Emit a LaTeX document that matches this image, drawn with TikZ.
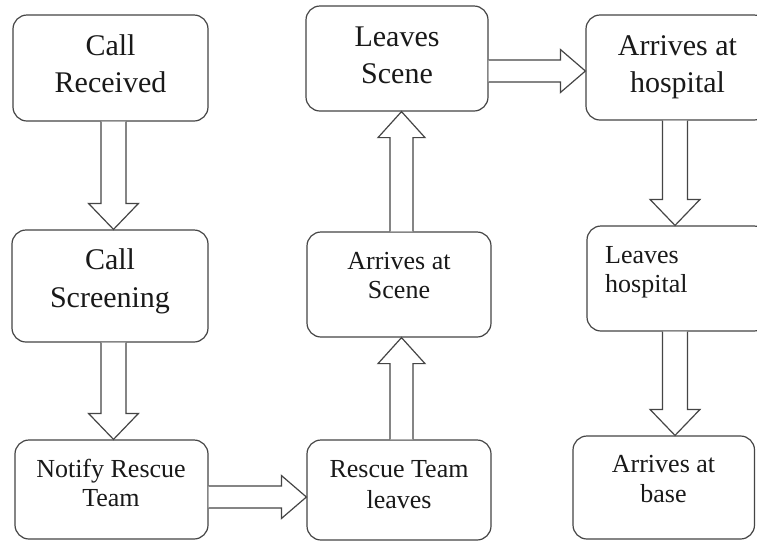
\documentclass[tikz,border=0pt]{standalone}
\usepackage{fontspec}
\setmainfont{Liberation Serif}
\usetikzlibrary{calc}
\definecolor{edge}{HTML}{454545}
\tikzset{
  box/.style={draw=edge, line width=1.2pt, rounded corners=14pt, inner sep=0pt},
  blk/.style={draw=edge, line width=1.2pt, fill=white, line join=miter},
  bigtxt/.style={font=\fontsize{30}{36}\selectfont, inner sep=0pt, text=black!90},
  smalltxt/.style={font=\fontsize{26}{30}\selectfont, inner sep=0pt, text=black!90}
}
% block arrows: from node, to node, offset (pt)
\newcommand\blkdown[3]{\draw[blk] let \p1=($(#1.south)+(#3pt,0pt)$), \p2=(#2.north) in
  (\x1-12.5pt,\y1) -- (\x1-12.5pt,\y2+26pt) -- (\x1-25pt,\y2+26pt) -- (\x1,\y2) --
  (\x1+25pt,\y2+26pt) -- (\x1+12.5pt,\y2+26pt) -- (\x1+12.5pt,\y1);}
\newcommand\blkup[3]{\draw[blk] let \p1=($(#1.north)+(#3pt,0pt)$), \p2=(#2.south) in
  (\x1-11.5pt,\y1) -- (\x1-11.5pt,\y2-26pt) -- (\x1-23.5pt,\y2-26pt) -- (\x1,\y2) --
  (\x1+23.5pt,\y2-26pt) -- (\x1+11.5pt,\y2-26pt) -- (\x1+11.5pt,\y1);}
\newcommand\blkright[3]{\draw[blk] let \p1=($(#1.east)+(0pt,#3pt)$), \p2=(#2.west) in
  (\x1,\y1+11pt) -- (\x2-25pt,\y1+11pt) -- (\x2-25pt,\y1+21.5pt) -- (\x2,\y1) --
  (\x2-25pt,\y1-21.5pt) -- (\x2-25pt,\y1-11pt) -- (\x1,\y1-11pt);}
\begin{document}
\begin{tikzpicture}[x=1pt,y=-1pt]
\useasboundingbox (0,0) rectangle (757,542);
\clip (0,0) rectangle (757,542);
\fill[white] (0,0) rectangle (757,542);

% boxes
\node[box, minimum width=195pt, minimum height=106pt] (b1) at (110.5,68) {};
\node[box, minimum width=196pt, minimum height=112pt] (b2) at (110,286) {};
\node[box, minimum width=193pt, minimum height=99pt] (b3) at (111.5,489.5) {};
\node[box, minimum width=184pt, minimum height=100pt] (b4) at (399,490) {};
\node[box, minimum width=184pt, minimum height=105pt] (b5) at (399,284.5) {};
\node[box, minimum width=182pt, minimum height=105pt] (b6) at (397,58.5) {};
\node[box, minimum width=182pt, minimum height=105pt] (b7) at (677,67.5) {};
\node[box, minimum width=181pt, minimum height=105pt] (b8) at (677.5,278.5) {};
\node[box, minimum width=181.5pt, minimum height=103pt] (b9) at (663.75,487.5) {};

% texts
\node[bigtxt, anchor=base] (t1a) at (110.5,55) {Call};
\node[bigtxt, anchor=base] (t1b) at (110.5,92) {Received};
\node[bigtxt, anchor=base] (t2a) at (110,269) {Call};
\node[bigtxt, anchor=base] (t2b) at (110,307) {Screening};
\node[smalltxt, anchor=base] (t3a) at (111,477) {Notify Rescue};
\node[smalltxt, anchor=base] (t3b) at (111,506) {Team};
\node[smalltxt, anchor=base] (t4a) at (399,477) {Rescue Team};
\node[smalltxt, anchor=base] (t4b) at (399,508) {leaves};
\node[smalltxt, anchor=base] (t5a) at (399,269) {Arrives at};
\node[smalltxt, anchor=base] (t5b) at (399,298) {Scene};
\node[bigtxt, anchor=base] (t6a) at (397,46) {Leaves};
\node[bigtxt, anchor=base] (t6b) at (397,83) {Scene};
\node[bigtxt, anchor=base] (t7a) at (677.5,55) {Arrives at};
\node[bigtxt, anchor=base] (t7b) at (677.5,92) {hospital};
\node[smalltxt, anchor=base west] (t8a) at (605,263) {Leaves};
\node[smalltxt, anchor=base west] (t8b) at (605,292) {hospital};
\node[smalltxt, anchor=base] (t9a) at (663.5,472) {Arrives at};
\node[smalltxt, anchor=base] (t9b) at (663.5,502) {base};

% block arrows
\blkdown{b1}{b2}{3}
\blkdown{b2}{b3}{3.5}
\blkright{b3}{b4}{-7.5}
\blkup{b4}{b5}{2.5}
\blkup{b5}{b6}{2.5}
\blkright{b6}{b7}{-12.5}
\blkdown{b7}{b8}{-2}
\blkdown{b8}{b9}{-2.5}
\end{tikzpicture}
\end{document}
